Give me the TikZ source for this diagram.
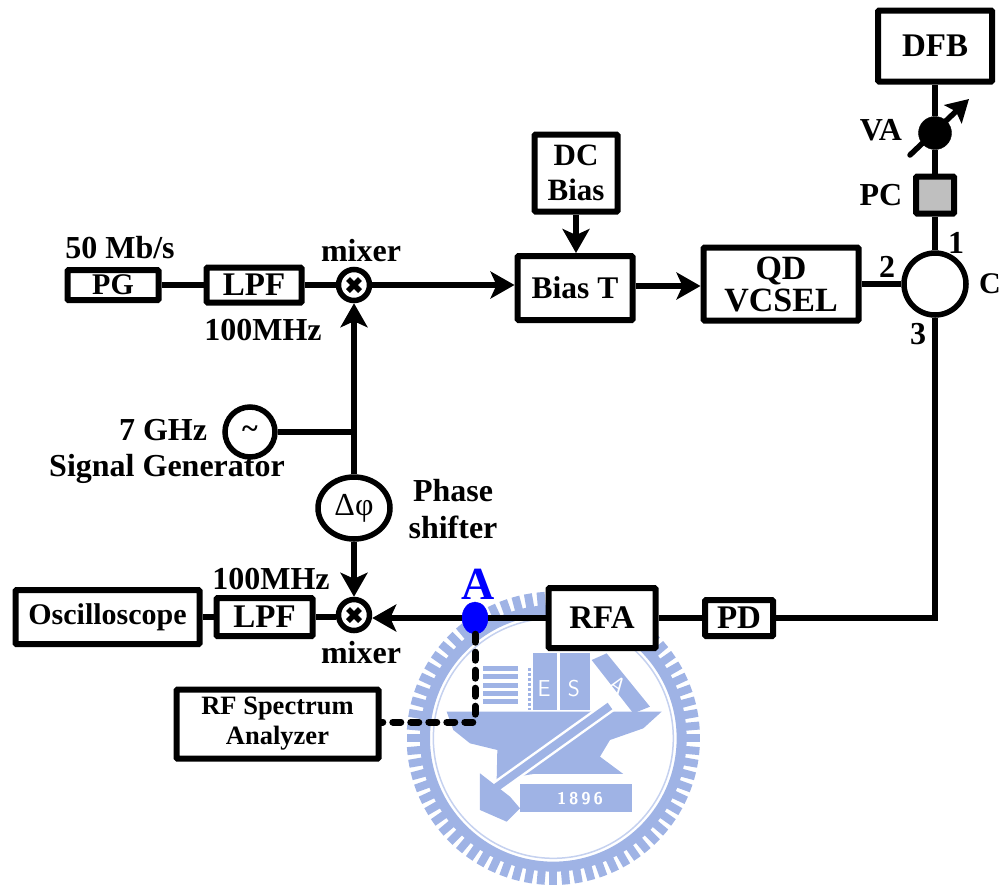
\documentclass[tikz,border=0pt]{standalone}
\usepackage{fontspec}
\setmainfont{Liberation Serif}
\usepackage{xcolor}
\usetikzlibrary{arrows.meta,shapes.geometric}
\definecolor{wmblu}{HTML}{9FB3E5}
\tikzset{
  box/.style={draw, line width=6pt, fill=white, rounded corners=1pt, inner sep=0pt, font=\fontsize{33}{36}\selectfont\bfseries, align=center},
  txt/.style={inner sep=0pt, font=\fontsize{32}{36}\selectfont\bfseries, align=center},
  wire/.style={line width=5.5pt},
  arr/.style={line width=5.5pt, -{Stealth[length=24pt,width=27pt,inset=6pt]}},
  mix/.style={draw, circle, line width=5.5pt, fill=white, minimum size=31pt, inner sep=0pt},
}
\begin{document}
\begin{tikzpicture}[x=1pt,y=-1pt]
  \useasboundingbox (0,0) rectangle (1003,887);
  % Watermark
  \begin{scope}[shift={(400,580)},x=0.3333pt,y=-0.3333pt]
    \foreach \ang in {0,5,...,355}
      \draw[wmblu, line width=8pt] (460,475) ++(\ang:395) -- ++(\ang:45);
    \draw[wmblu, line width=10pt] (460,475) circle (385);
    \draw[wmblu!60, line width=1.5pt] (460,475) circle (360);
    % Anvil
    \fill[wmblu] (140,395) -- (785,395) -- (730,445) -- (630,480) -- (600,530) -- (670,582) -- (400,582) -- (290,600) -- (292,510) -- (210,490) -- (160,450) -- cycle;
    % Buildings
    \fill[wmblu] (400,220) -- (470,220) -- (470,390) -- (400,390) -- cycle;
    \fill[wmblu] (480,220) -- (570,220) -- (570,390) -- (480,390) -- cycle;
    \fill[wmblu] (575,240) -- (620,220) -- (750,380) -- (700,400) -- cycle;
    \foreach \yy in {265,290,315,340,365}
      \draw[wmblu, line width=5pt] (250,\yy) -- (355,\yy);
    \draw[wmblu, line width=3pt, dotted] (388,265) -- (388,390);
    \node[white, inner sep=0pt, font=\fontsize{23}{26}\selectfont\sffamily] (wme) at (432,325) {E};
    \node[white, inner sep=0pt, font=\fontsize{23}{26}\selectfont\sffamily] (wms) at (522,325) {S};
    \node[white, inner sep=0pt, rotate=-35, font=\fontsize{23}{26}\selectfont\sffamily] (wma) at (655,315) {A};
    % Hammer
    \draw[white, line width=13pt] (630,378) -- (285,625);
    \draw[wmblu, line width=8pt] (630,378) -- (285,625);
    \fill[wmblu] (240,580) -- (330,650) -- (360,685) -- (320,725) -- (240,690) -- cycle;
    % Year
    \fill[wmblu] (360,612) -- (695,612) -- (695,695) -- (360,695) -- cycle;
    \node[white, inner sep=0pt, font=\fontsize{17}{20}\selectfont\bfseries\sffamily] (wmyear) at (540,655) {1\,8\,9\,6};
  \end{scope}
  % Boxes
  \node[box, minimum width=114pt, minimum height=71pt] (dfb) at (935,46) {DFB};
  \node[box, minimum width=38pt, minimum height=37pt, fill=black!25] (pc) at (935,195) {};
  \node[box, minimum width=155pt, minimum height=73pt, font=\fontsize{34}{35}\selectfont\bfseries] (vcsel) at (781,284) {QD\\[-3pt]VCSEL};
  \node[box, minimum width=115pt, minimum height=64pt, font=\fontsize{31.5}{36}\selectfont\bfseries] (biast) at (575,288) {Bias T};
  \node[box, minimum width=83pt, minimum height=77pt, font=\fontsize{31}{36}\selectfont\bfseries] (dcbias) at (576,173) {DC\\[-1pt]Bias};
  \node[box, minimum width=91pt, minimum height=30pt, font=\fontsize{30}{32}\selectfont\bfseries] (pg) at (113,285) {PG};
  \node[box, minimum width=95pt, minimum height=35pt] (lpfa) at (254,285) {LPF};
  \node[box, minimum width=68pt, minimum height=36pt] (pd) at (739,618) {PD};
  \node[box, minimum width=107pt, minimum height=60pt] (rfa) at (602,618) {RFA};
  \node[box, minimum width=96pt, minimum height=38pt] (lpfb) at (264.5,617) {LPF};
  \node[box, minimum width=184pt, minimum height=54pt, font=\fontsize{30}{34}\selectfont\bfseries] (scope) at (107.5,617) {Oscilloscope};
  \node[box, minimum width=202pt, minimum height=69pt, font=\fontsize{26.5}{30}\selectfont\bfseries] (rfsa) at (277.5,724) {RF Spectrum\\Analyzer};
  % Round parts
  \node[draw, circle, line width=5.5pt, fill=white, minimum size=62pt, inner sep=0pt] (circ) at (935,284) {};
  \node[draw, circle, fill=black, minimum size=33pt, inner sep=0pt] (va) at (935,133) {};
  \node[mix] (mixa) at (354,285) {};
  \node[mix] (mixb) at (354,615) {};
  \node[draw, circle, line width=5.5pt, fill=white, minimum size=50pt, inner sep=0pt, font=\fontsize{30}{34}\selectfont\bfseries] (gen) at (250,432) {\textasciitilde};
  \node[draw, ellipse, line width=5.5pt, fill=white, minimum width=72pt, minimum height=62pt, inner sep=0pt, font=\fontsize{32}{34}\selectfont] (dphi) at (354,508) {Δφ};
  \node[draw=blue, fill=blue, ellipse, minimum width=26pt, minimum height=32pt, inner sep=0pt] (dota) at (475,618) {};
  % Crosses in the mixers
  \foreach \m in {mixa,mixb} {
    \draw[line width=5.5pt] (\m) ++(-6,-6) -- ++(12,12);
    \draw[line width=5.5pt] (\m) ++(-6,6) -- ++(12,-12);
  }
  % Connectors
  \coordinate (junc) at (354,432);
  \coordinate (corner) at (475,722);
  \coordinate (bend) at (935,618);
  \draw[wire] (dfb) -- (va);
  \draw[wire] (va) -- (pc);
  \draw[wire] (pc) -- (circ);
  \draw[wire] (vcsel) -- (circ);
  \draw[wire] (circ) -- (bend) -- (pd);
  \draw[wire] (pd) -- (rfa);
  \draw[wire] (rfa) -- (dota);
  \draw[arr] (dota) -- (mixb.east |- dota);
  \draw[wire] (mixb.west |- lpfb) -- (lpfb);
  \draw[wire] (lpfb) -- (scope);
  \draw[wire] (pg) -- (lpfa);
  \draw[wire] (lpfa) -- (mixa);
  \draw[arr] (mixa) -- (mixa -| biast.west);
  \draw[arr] (dcbias) -- (dcbias |- biast.north);
  \draw[arr] (biast.east |- 0,286) -- (vcsel.west |- 0,286);
  \draw[wire] (gen) -- (junc);
  \draw[arr] (dphi) -- (mixa);
  \draw[arr] (dphi) -- (mixb);
  \draw[line width=7pt, dash pattern=on 8pt off 10pt, line cap=round] (dota) -- (corner) -- (rfsa.east |- corner);
  % Attenuator arrow
  \coordinate (vastart) at (910,155);
  \coordinate (vaend) at (969,99);
  \draw[line width=5.5pt, line cap=round, -{Stealth[length=22pt,width=25pt,inset=4pt]}] (vastart) -- (vaend);
  % Labels
  \node[txt] (valab) at (881,130) {VA};
  \node[txt] (pclab) at (881,195) {PC};
  \node[txt] (port1) at (956,243) {1};
  \node[txt] (port2) at (887,267) {2};
  \node[txt] (port3) at (918,334) {3};
  \node[txt, anchor=west, font=\fontsize{30}{34}\selectfont\bfseries] (circlab) at (979,284) {C};
  \node[txt] (ratelab) at (120,248) {50 Mb/s};
  \node[txt] (mixalab) at (361,251) {mixer};
  \node[txt] (bwa) at (263,330) {100MHz};
  \node[txt] (ghz) at (163,430) {7 GHz};
  \node[txt] (sglab) at (167,469) {Signal Generator};
  \node[txt] (phase) at (453,491) {Phase};
  \node[txt] (shifter) at (453,527) {shifter};
  \node[txt] (bwb) at (271,579) {100MHz};
  \node[txt] (mixblab) at (361,653) {mixer};
  \node[txt, blue, font=\fontsize{46}{50}\selectfont\bfseries] (alab) at (478,584) {A};
\end{tikzpicture}
\end{document}
